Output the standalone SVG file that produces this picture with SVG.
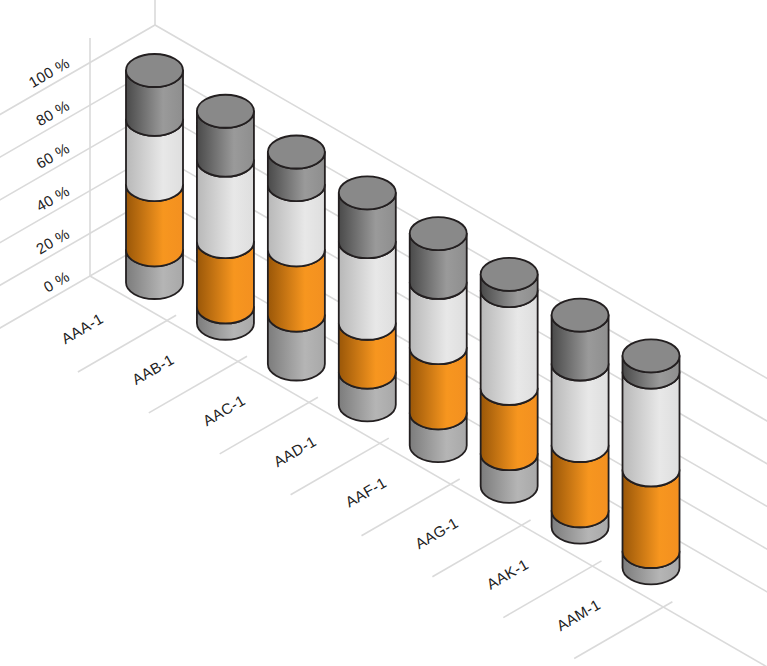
<svg xmlns="http://www.w3.org/2000/svg" width="767" height="666" viewBox="0 0 767 666">
<style>
.grid{stroke:#dadada;stroke-width:1.6;fill:none}
.seg{stroke:#231f20;stroke-width:1.8;stroke-linejoin:round}
.d{fill:url(#gDark)}
.w{fill:url(#gWhite)}
.o{fill:url(#gOrange)}
.g{fill:url(#gGrey)}
.cap{fill:#898989;stroke:#231f20;stroke-width:1.8}
.lbl{font-family:"Liberation Sans",Arial,sans-serif;font-size:15px;fill:#222222;letter-spacing:0.4px}
</style>
<defs>
<linearGradient id="gDark" x1="0" y1="0" x2="1" y2="0">
<stop offset="0" stop-color="#4a4a4a"/><stop offset="0.65" stop-color="#9a9a9a"/><stop offset="1" stop-color="#8e8e8e"/>
</linearGradient>
<linearGradient id="gWhite" x1="0" y1="0" x2="1" y2="0">
<stop offset="0" stop-color="#b8b8b8"/><stop offset="0.65" stop-color="#e8e8e8"/><stop offset="1" stop-color="#dedede"/>
</linearGradient>
<linearGradient id="gOrange" x1="0" y1="0" x2="1" y2="0">
<stop offset="0" stop-color="#9a5708"/><stop offset="0.65" stop-color="#f7961f"/><stop offset="1" stop-color="#f39020"/>
</linearGradient>
<linearGradient id="gGrey" x1="0" y1="0" x2="1" y2="0">
<stop offset="0" stop-color="#7c7c7c"/><stop offset="0.65" stop-color="#b5b5b5"/><stop offset="1" stop-color="#a8a8a8"/>
</linearGradient>
</defs>
<rect width="767" height="666" fill="#ffffff"/>
<g id="grid">
<polyline class="grid" points="-10,333.74 155,238.47 780,599.31"/>
<polyline class="grid" points="-10,291.04 155,195.77 780,556.61"/>
<polyline class="grid" points="-10,248.34 155,153.07 780,513.91"/>
<polyline class="grid" points="-10,205.64 155,110.37 780,471.21"/>
<polyline class="grid" points="-10,162.94 155,67.67 780,428.51"/>
<polyline class="grid" points="-10,120.24 155,24.97 780,385.81"/>
<line class="grid" x1="90" y1="38" x2="90" y2="276"/>
<line class="grid" x1="155" y1="-2" x2="155" y2="25"/>
<line class="grid" x1="90" y1="276" x2="780" y2="674.4"/>
<line class="grid" x1="77.9" y1="372" x2="176.1" y2="315.3"/>
<line class="grid" x1="148.8" y1="412.9" x2="247" y2="356.2"/>
<line class="grid" x1="219.7" y1="453.9" x2="317.9" y2="397.2"/>
<line class="grid" x1="290.6" y1="494.8" x2="388.8" y2="438.1"/>
<line class="grid" x1="361.5" y1="535.7" x2="459.7" y2="479"/>
<line class="grid" x1="432.4" y1="576.7" x2="530.6" y2="520"/>
<line class="grid" x1="503.3" y1="617.6" x2="601.5" y2="560.9"/>
<line class="grid" x1="574.2" y1="658.5" x2="672.4" y2="601.8"/>
</g>
<g id="value-labels" class="lbl" text-anchor="end">
<text transform="translate(71,279.5) rotate(-30)">0 %</text>
<text transform="translate(71,236.8) rotate(-30)">20 %</text>
<text transform="translate(71,194.1) rotate(-30)">40 %</text>
<text transform="translate(71,151.4) rotate(-30)">60 %</text>
<text transform="translate(71,108.7) rotate(-30)">80 %</text>
<text transform="translate(71,66) rotate(-30)">100 %</text>
</g>
<g id="category-labels" class="lbl" text-anchor="middle">
<text transform="translate(82.2,328.5) rotate(-30)" dy="0.35em">AAA-1</text>
<text transform="translate(153.1,369.4) rotate(-30)" dy="0.35em">AAB-1</text>
<text transform="translate(224,410.4) rotate(-30)" dy="0.35em">AAC-1</text>
<text transform="translate(294.9,451.3) rotate(-30)" dy="0.35em">AAD-1</text>
<text transform="translate(365.8,492.2) rotate(-30)" dy="0.35em">AAF-1</text>
<text transform="translate(436.7,533.2) rotate(-30)" dy="0.35em">AAG-1</text>
<text transform="translate(507.6,574.1) rotate(-30)" dy="0.35em">AAK-1</text>
<text transform="translate(578.5,615) rotate(-30)" dy="0.35em">AAM-1</text>
</g>
<g id="cyl-AAA-1" transform="translate(154.5,70.5)">
<path class="seg g" d="M-28.5 179.38V212A28.5 16.5 0 0 0 28.5 212V179.38A28.5 16.5 0 0 1 -28.5 179.38Z"/>
<path class="seg o" d="M-28.5 114.15V179.38A28.5 16.5 0 0 0 28.5 179.38V114.15A28.5 16.5 0 0 1 -28.5 114.15Z"/>
<path class="seg w" d="M-28.5 48.92V114.15A28.5 16.5 0 0 0 28.5 114.15V48.92A28.5 16.5 0 0 1 -28.5 48.92Z"/>
<path class="seg d" d="M-28.5 0V48.92A28.5 16.5 0 0 0 28.5 48.92V0A28.5 16.5 0 0 1 -28.5 0Z"/>
<ellipse class="cap" cx="0" cy="0" rx="28.5" ry="16.5"/>
</g>
<g id="cyl-AAB-1" transform="translate(225.43,111.26)">
<path class="seg g" d="M-28.5 195.69V212A28.5 16.5 0 0 0 28.5 212V195.69A28.5 16.5 0 0 1 -28.5 195.69Z"/>
<path class="seg o" d="M-28.5 130.46V195.69A28.5 16.5 0 0 0 28.5 195.69V130.46A28.5 16.5 0 0 1 -28.5 130.46Z"/>
<path class="seg w" d="M-28.5 48.92V130.46A28.5 16.5 0 0 0 28.5 130.46V48.92A28.5 16.5 0 0 1 -28.5 48.92Z"/>
<path class="seg d" d="M-28.5 0V48.92A28.5 16.5 0 0 0 28.5 48.92V0A28.5 16.5 0 0 1 -28.5 0Z"/>
<ellipse class="cap" cx="0" cy="0" rx="28.5" ry="16.5"/>
</g>
<g id="cyl-AAC-1" transform="translate(296.36,152.02)">
<path class="seg g" d="M-28.5 163.08V212A28.5 16.5 0 0 0 28.5 212V163.08A28.5 16.5 0 0 1 -28.5 163.08Z"/>
<path class="seg o" d="M-28.5 97.85V163.08A28.5 16.5 0 0 0 28.5 163.08V97.85A28.5 16.5 0 0 1 -28.5 97.85Z"/>
<path class="seg w" d="M-28.5 32.62V97.85A28.5 16.5 0 0 0 28.5 97.85V32.62A28.5 16.5 0 0 1 -28.5 32.62Z"/>
<path class="seg d" d="M-28.5 0V32.62A28.5 16.5 0 0 0 28.5 32.62V0A28.5 16.5 0 0 1 -28.5 0Z"/>
<ellipse class="cap" cx="0" cy="0" rx="28.5" ry="16.5"/>
</g>
<g id="cyl-AAD-1" transform="translate(367.29,192.78)">
<path class="seg g" d="M-28.5 179.38V212A28.5 16.5 0 0 0 28.5 212V179.38A28.5 16.5 0 0 1 -28.5 179.38Z"/>
<path class="seg o" d="M-28.5 130.46V179.38A28.5 16.5 0 0 0 28.5 179.38V130.46A28.5 16.5 0 0 1 -28.5 130.46Z"/>
<path class="seg w" d="M-28.5 48.92V130.46A28.5 16.5 0 0 0 28.5 130.46V48.92A28.5 16.5 0 0 1 -28.5 48.92Z"/>
<path class="seg d" d="M-28.5 0V48.92A28.5 16.5 0 0 0 28.5 48.92V0A28.5 16.5 0 0 1 -28.5 0Z"/>
<ellipse class="cap" cx="0" cy="0" rx="28.5" ry="16.5"/>
</g>
<g id="cyl-AAF-1" transform="translate(438.22,233.54)">
<path class="seg g" d="M-28.5 179.38V212A28.5 16.5 0 0 0 28.5 212V179.38A28.5 16.5 0 0 1 -28.5 179.38Z"/>
<path class="seg o" d="M-28.5 114.15V179.38A28.5 16.5 0 0 0 28.5 179.38V114.15A28.5 16.5 0 0 1 -28.5 114.15Z"/>
<path class="seg w" d="M-28.5 48.92V114.15A28.5 16.5 0 0 0 28.5 114.15V48.92A28.5 16.5 0 0 1 -28.5 48.92Z"/>
<path class="seg d" d="M-28.5 0V48.92A28.5 16.5 0 0 0 28.5 48.92V0A28.5 16.5 0 0 1 -28.5 0Z"/>
<ellipse class="cap" cx="0" cy="0" rx="28.5" ry="16.5"/>
</g>
<g id="cyl-AAG-1" transform="translate(509.15,274.3)">
<path class="seg g" d="M-28.5 179.38V212A28.5 16.5 0 0 0 28.5 212V179.38A28.5 16.5 0 0 1 -28.5 179.38Z"/>
<path class="seg o" d="M-28.5 114.15V179.38A28.5 16.5 0 0 0 28.5 179.38V114.15A28.5 16.5 0 0 1 -28.5 114.15Z"/>
<path class="seg w" d="M-28.5 16.31V114.15A28.5 16.5 0 0 0 28.5 114.15V16.31A28.5 16.5 0 0 1 -28.5 16.31Z"/>
<path class="seg d" d="M-28.5 0V16.31A28.5 16.5 0 0 0 28.5 16.31V0A28.5 16.5 0 0 1 -28.5 0Z"/>
<ellipse class="cap" cx="0" cy="0" rx="28.5" ry="16.5"/>
</g>
<g id="cyl-AAK-1" transform="translate(580.08,315.06)">
<path class="seg g" d="M-28.5 195.69V212A28.5 16.5 0 0 0 28.5 212V195.69A28.5 16.5 0 0 1 -28.5 195.69Z"/>
<path class="seg o" d="M-28.5 130.46V195.69A28.5 16.5 0 0 0 28.5 195.69V130.46A28.5 16.5 0 0 1 -28.5 130.46Z"/>
<path class="seg w" d="M-28.5 48.92V130.46A28.5 16.5 0 0 0 28.5 130.46V48.92A28.5 16.5 0 0 1 -28.5 48.92Z"/>
<path class="seg d" d="M-28.5 0V48.92A28.5 16.5 0 0 0 28.5 48.92V0A28.5 16.5 0 0 1 -28.5 0Z"/>
<ellipse class="cap" cx="0" cy="0" rx="28.5" ry="16.5"/>
</g>
<g id="cyl-AAM-1" transform="translate(651.01,355.82)">
<path class="seg g" d="M-28.5 195.69V212A28.5 16.5 0 0 0 28.5 212V195.69A28.5 16.5 0 0 1 -28.5 195.69Z"/>
<path class="seg o" d="M-28.5 114.15V195.69A28.5 16.5 0 0 0 28.5 195.69V114.15A28.5 16.5 0 0 1 -28.5 114.15Z"/>
<path class="seg w" d="M-28.5 16.31V114.15A28.5 16.5 0 0 0 28.5 114.15V16.31A28.5 16.5 0 0 1 -28.5 16.31Z"/>
<path class="seg d" d="M-28.5 0V16.31A28.5 16.5 0 0 0 28.5 16.31V0A28.5 16.5 0 0 1 -28.5 0Z"/>
<ellipse class="cap" cx="0" cy="0" rx="28.5" ry="16.5"/>
</g>
</svg>
